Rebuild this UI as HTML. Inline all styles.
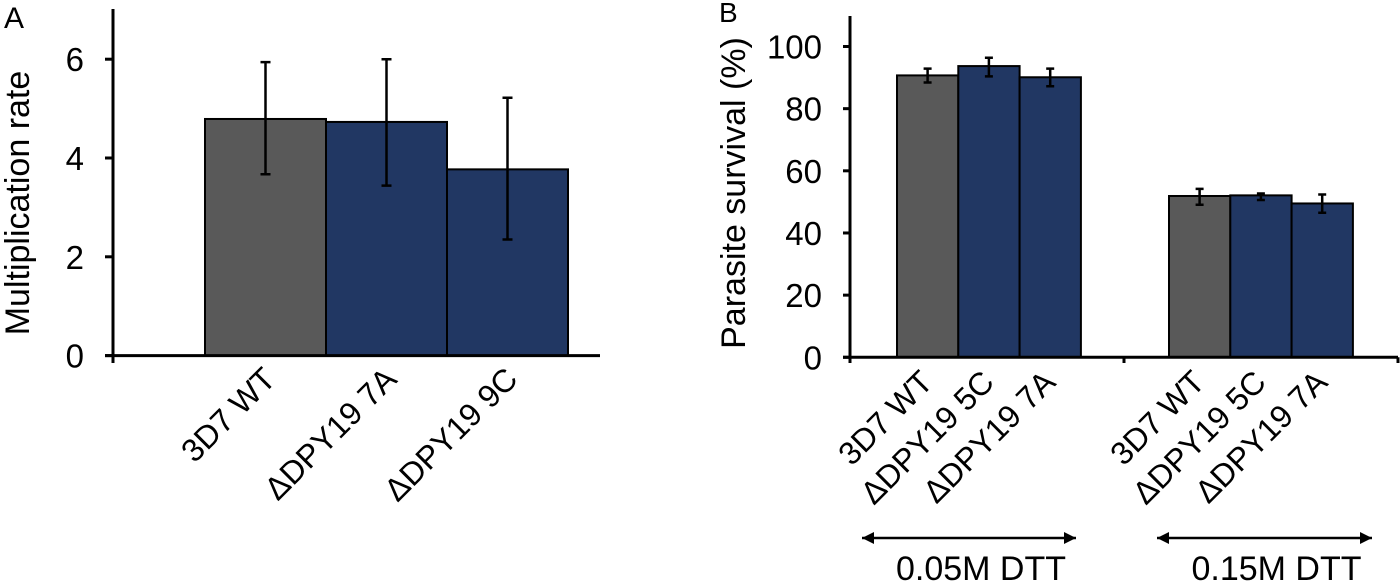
<!DOCTYPE html>
<html><head><meta charset="utf-8"><style>
body{margin:0;background:#fff}
svg{display:block;font-family:"Liberation Sans",sans-serif}
</style></head><body>
<svg id="c" width="1400" height="582" viewBox="0 0 1400 582"></svg>
<script>
const aCats=["3D7 WT","\u0394DPY19 7A","\u0394DPY19 9C"];
const aVals=[4.79,4.73,3.77];
const aHi=[5.94,6.0,5.22];
const aLo=[3.67,3.44,2.35];
const aTicks=[0,2,4,6];
const bCats=["3D7 WT","\u0394DPY19 5C","\u0394DPY19 7A","3D7 WT","\u0394DPY19 5C","\u0394DPY19 7A"];
const bVals=[90.7,93.7,90.1,51.9,52.1,49.5];
const bHi=[92.9,96.4,92.9,54.2,52.7,52.4];
const bLo=[88.4,90.4,87.2,49.1,50.6,46.5];
const bTicks=[0,20,40,60,80,100];
const bGroups=["0.05M DTT","0.15M DTT"];
const colors=["#595959","#213763","#213763"];
const svg=document.getElementById('c');
const NS="http://www.w3.org/2000/svg";
function mk(t,a,txt){const e=document.createElementNS(NS,t);for(const k in a)e.setAttribute(k,a[k]);if(txt!==undefined)e.textContent=txt;svg.appendChild(e);return e;}
// Panel A
const ay=v=>355.6-v*49.4;
const ax=i=>205+i*121;
let e;
e=mk('text',{x:4,y:28,'font-size':30},'A');


aVals.forEach((v,i)=>{
 e=mk('rect',{x:ax(i),y:ay(v),width:121,height:ay(0)-ay(v),fill:colors[i],stroke:'#000','stroke-width':2});
 
 
});
aVals.forEach((v,i)=>{
 const cx=ax(i)+60.5;
 e=mk('path',{d:`M${cx},${ay(aHi[i])}V${ay(aLo[i])}M${cx-5},${ay(aHi[i])}H${cx+5}M${cx-5},${ay(aLo[i])}H${cx+5}`,stroke:'#000','stroke-width':2.5,fill:'none'});
 
 
 e=mk('text',{x:cx+12,y:381,'font-size':32,'text-anchor':'end',transform:`rotate(-45 ${cx+12} 381)`},aCats[i]);
 
 
});
e=mk('path',{d:`M113,9V363M105,${ay(0)}H600`,stroke:'#000','stroke-width':3,fill:'none'});


aTicks.forEach(t=>{
 e=mk('path',{d:`M105,${ay(t)}H113`,stroke:'#000','stroke-width':3});
 
 
 e=mk('text',{x:84,y:ay(t)+12,'font-size':33,'text-anchor':'end'},t);
 
 
});
e=mk('text',{x:29,y:203,'font-size':34,'text-anchor':'middle',transform:'rotate(-90 29 203)'},'Multiplication rate');


// Panel B
const by=v=>357.3-v*3.108;
const bx=i=>(i<3?897:1169)+(i%3)*61.3;
e=mk('text',{x:719,y:22,'font-size':28},'B');


bVals.forEach((v,i)=>{
 e=mk('rect',{x:bx(i),y:by(v),width:61.3,height:by(0)-by(v),fill:colors[i%3],stroke:'#000','stroke-width':2});
 
 
});
bVals.forEach((v,i)=>{
 const cx=bx(i)+30.6;
 e=mk('path',{d:`M${cx},${by(bHi[i])}V${by(bLo[i])}M${cx-4},${by(bHi[i])}H${cx+4}M${cx-4},${by(bLo[i])}H${cx+4}`,stroke:'#000','stroke-width':2.5,fill:'none'});
 
 
 e=mk('text',{x:cx+7,y:384,'font-size':32,'text-anchor':'end',transform:`rotate(-45 ${cx+7} 384)`},bCats[i]);
 
 
});
e=mk('path',{d:`M850,16V363M843,${by(0)}H1398M1124,${by(0)}V363M1398,${by(0)}V363`,stroke:'#000','stroke-width':3,fill:'none'});


bTicks.forEach(t=>{
 e=mk('path',{d:`M843,${by(t)}H850`,stroke:'#000','stroke-width':3});
 
 
 e=mk('text',{x:822,y:by(t)+12,'font-size':33,'text-anchor':'end'},t);
 
 
});
e=mk('text',{x:745,y:193,'font-size':34,'text-anchor':'middle',transform:'rotate(-90 745 193)'},'Parasite survival (%)');


const arrows=[[862,1076],[1157,1372]];
bGroups.forEach((g,i)=>{
 const [x1,x2]=arrows[i];
 e=mk('path',{d:`M${x1},538H${x2}`,stroke:'#000','stroke-width':2.5});
 
 
 e=mk('path',{d:`M${x1},538l12,-6v12zM${x2},538l-12,-6v12z`,fill:'#000'});
 
 
 e=mk('text',{x:(x1+x2)/2+12,y:580,'font-size':34,'text-anchor':'middle'},g);
 
 
});
</script>
</body></html>
